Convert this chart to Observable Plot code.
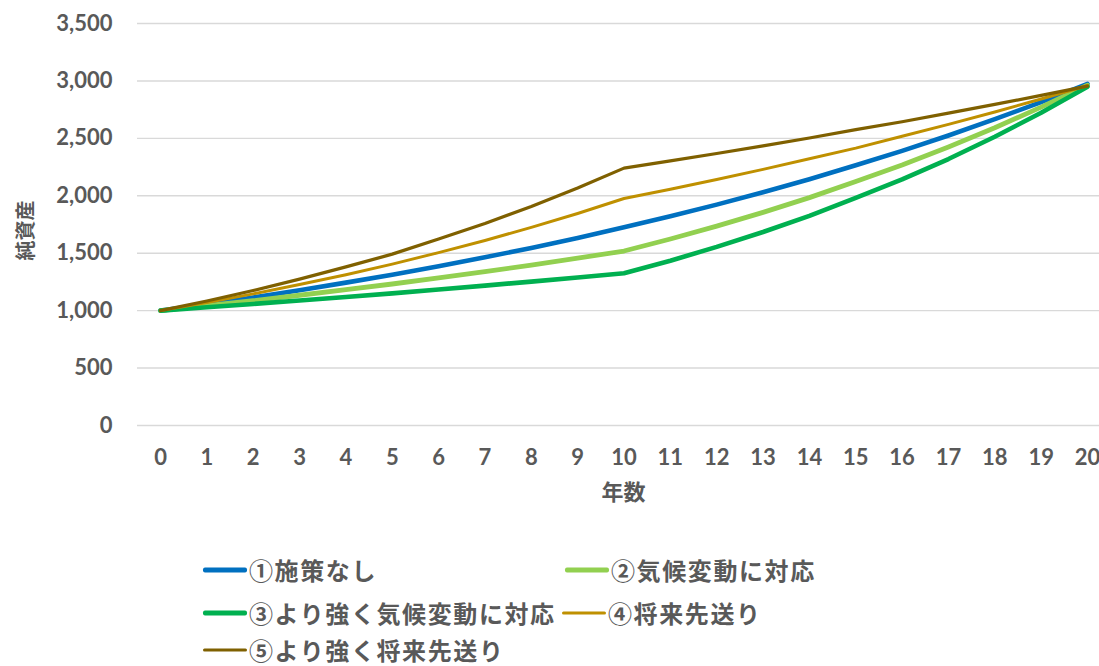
<!DOCTYPE html>
<html>
<head>
<meta charset="utf-8">
<script src="https://cdn.jsdelivr.net/npm/d3@7"></script>
<script src="https://cdn.jsdelivr.net/npm/@observablehq/plot@0.6"></script>
<style>
  html, body { margin: 0; padding: 0; background: #fff; }
  #chart { width: 1099px; height: 530px; }
  #chart svg { display: block; }
  #legend { position: relative; width: 1099px; height: 136px; font-family: "Noto Sans CJK JP", "Noto Sans", sans-serif; font-weight: 700; font-size: 24px; line-height: 1.05; color: #595959; }
  .item { position: absolute; display: flex; align-items: center; transform: translateY(-50%); white-space: nowrap; letter-spacing: 1.6px; }
  .swatch { display: inline-block; width: 44px; margin-right: 2px; border-radius: 2px; }
</style>
</head>
<body>
<div id="chart"></div>
<div id="legend"></div>
<script>
// 年数
const years = [0, 1, 2, 3, 4, 5, 6, 7, 8, 9, 10, 11, 12, 13, 14, 15, 16, 17, 18, 19, 20];

// 純資産の推移（シナリオ別）
const noPolicy      = [1000, 1056, 1115, 1178, 1244, 1313, 1387, 1464, 1546, 1633, 1726, 1821, 1923, 2031, 2144, 2266, 2391, 2525, 2667, 2816, 2975];
const climate       = [1000, 1043, 1087, 1134, 1182, 1232, 1285, 1340, 1397, 1457, 1519, 1624, 1736, 1856, 1984, 2124, 2268, 2425, 2592, 2772, 2963];
const strongClimate = [1000, 1029, 1058, 1088, 1119, 1150, 1184, 1218, 1253, 1288, 1325, 1435, 1555, 1685, 1825, 1982, 2142, 2320, 2514, 2723, 2950];
const postpone      = [1000, 1070, 1146, 1227, 1313, 1405, 1505, 1611, 1725, 1846, 1976, 2057, 2142, 2230, 2322, 2415, 2518, 2622, 2730, 2843, 2960];
const strongPostpone= [1000, 1084, 1175, 1274, 1381, 1492, 1623, 1759, 1907, 2067, 2241, 2304, 2368, 2435, 2503, 2576, 2645, 2720, 2796, 2874, 2955];

const seriesNames = ["①施策なし", "②気候変動に対応", "③より強く気候変動に対応", "④将来先送り", "⑤より強く将来先送り"];
const seriesValues = [noPolicy, climate, strongClimate, postpone, strongPostpone];

// 目盛
const yTicks = [0, 500, 1000, 1500, 2000, 2500, 3000, 3500];
const xTicks = years;

// 系列ごとの線の色と太さ
const seriesColors = ["#0070C0", "#92D050", "#00B050", "#BF9000", "#7F6000"];
const seriesWidths = [4.6, 4.8, 4.6, 3, 3.2];

const rows = seriesNames.map((name, i) =>
  years.map((year, j) => ({series: name, year, value: seriesValues[i][j]}))
);

const chart = Plot.plot({
  width: 1099,
  height: 530,
  marginLeft: 137,
  marginRight: 0,
  marginTop: 23,
  marginBottom: 105,
  x: {domain: [0, 20], range: [160, 1087]},
  y: {domain: [0, 3500], range: [425, 23]},
  style: {
    fontFamily: "Lato, 'Noto Sans CJK JP', sans-serif",
    fontSize: "22px",
    fontWeight: "bold",
    color: "#595959",
    background: "#fff",
    overflow: "visible"
  },
  marks: [
    Plot.ruleY(yTicks, {stroke: "#D9D9D9", strokeWidth: 1.4}),
    Plot.axisY({ticks: yTicks, tickSize: 0, tickPadding: 25, tickFormat: d3.format(","), label: null}),
    Plot.axisX({ticks: xTicks, tickSize: 0, tickPadding: 24, tickFormat: d => String(d), label: null}),
    ...rows.map((data, i) =>
      Plot.line(data, {
        x: "year",
        y: "value",
        stroke: seriesColors[i],
        strokeWidth: seriesWidths[i],
        strokeLinejoin: "round",
        strokeLinecap: "round"
      })
    ),
    Plot.text(["純資産"], {text: d => d, frameAnchor: "left", rotate: -90, dx: -111, dy: 36, fontSize: 20, fill: "#595959"}),
    Plot.text(["年数"], {text: d => d, frameAnchor: "bottom", dx: 5, dy: 74, fontSize: 22, fill: "#595959"})
  ]
});
document.getElementById("chart").append(chart);

// 凡例（2列、3行）
const legendSlots = [
  {left: 203, top: 40},
  {left: 565, top: 40},
  {left: 203, top: 83},
  {left: 562, top: 83},
  {left: 203, top: 120}
];
const legend = document.getElementById("legend");
seriesNames.forEach((name, i) => {
  const item = document.createElement("div");
  item.className = "item";
  item.style.left = legendSlots[i].left + "px";
  item.style.top = legendSlots[i].top + "px";
  const sw = document.createElement("span");
  sw.className = "swatch";
  sw.style.background = seriesColors[i];
  sw.style.height = seriesWidths[i] + "px";
  const label = document.createElement("span");
  label.textContent = name;
  item.append(sw, label);
  legend.append(item);
});
</script>
</body>
</html>
